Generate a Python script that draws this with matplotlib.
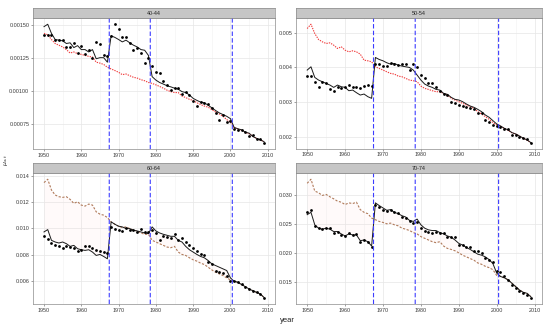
import matplotlib
matplotlib.use("Agg")
import matplotlib.pyplot as plt
import numpy as np

plt.rcParams['font.family'] = ['Liberation Sans', 'DejaVu Sans']

years = list(range(1950, 2010))
breaks = [1967.5, 1978.5, 2000.5]
groups = ["40-44", "50-54", "60-64", "70-74"]

obs_40 = [0.001426,0.001426,0.001421,0.001385,0.001383,0.001383,0.001337,0.001337,0.001362,0.001288,
          0.001344,0.001283,0.001309,0.001250,0.001372,0.001355,0.001270,0.001265,0.001416,0.001505,
          0.001470,0.001406,0.001411,0.001360,0.001309,0.001329,0.001291,0.001214,0.001250,0.001189,
          0.001143,0.001140,0.001079,0.001046,0.001008,0.001028,0.001023,0.000977,0.000995,0.000969,
          0.000926,0.000888,0.000921,0.000913,0.000906,0.000870,0.000839,0.000786,0.000824,0.000768,
          0.000778,0.000717,0.000707,0.000704,0.000691,0.000663,0.000671,0.000638,0.000640,0.000607]
fit_40 = [0.001487,0.001505,0.001436,0.001390,0.001385,0.001380,0.001360,0.001365,0.001329,0.001344,
          0.001314,0.001314,0.001296,0.001314,0.001245,0.001253,0.001253,0.001219,0.001418,0.001406,
          0.001390,0.001372,0.001385,0.001365,0.001347,0.001334,0.001314,0.001309,0.001270,0.001110,
          0.001084,0.001066,0.001054,0.001041,0.001033,0.001023,0.001015,0.000997,0.000990,0.000972,
          0.000946,0.000931,0.000918,0.000913,0.000895,0.000875,0.000855,0.000837,0.000824,0.000811,
          0.000793,0.000727,0.000717,0.000709,0.000691,0.000684,0.000658,0.000645,0.000633,0.000620]
alt_40 = [0.001436,0.001426,0.001390,0.001360,0.001347,0.001334,0.001314,0.001288,0.001296,0.001283,
          0.001278,0.001270,0.001263,0.001258,0.001219,0.001212,0.001202,0.001181,0.001168,0.001156,
          0.001143,0.001125,0.001130,0.001117,0.001105,0.001099,0.001087,0.001079,0.001066,0.001059,
          0.001048,0.001036,0.001023,0.001008,0.000997,0.000990,0.000990,0.000964,0.000952,0.000939,
          0.000931,0.000913,0.000900,0.000888,0.000880,0.000862,0.000844,0.000829,0.000811,0.000786,
          0.000768,0.000725,0.000715,0.000707,0.000690,0.000680,0.000660,0.000645,0.000633,0.000620]

obs_50 = [0.003744,0.003734,0.003581,0.003437,0.003581,0.003552,0.003360,0.003322,0.003418,0.003389,
          0.003418,0.003485,0.003437,0.003418,0.003389,0.003456,0.003485,0.003456,0.004080,0.004089,
          0.004032,0.004041,0.004108,0.004089,0.004070,0.004080,0.004099,0.003917,0.004080,0.004012,
          0.003773,0.003677,0.003552,0.003552,0.003437,0.003322,0.003217,0.003197,0.003006,0.002958,
          0.002910,0.002881,0.002843,0.002814,0.002785,0.002670,0.002670,0.002478,0.002430,0.002335,
          0.002306,0.002287,0.002210,0.002210,0.002047,0.002047,0.001999,0.001951,0.001922,0.001826]
fit_50 = [0.003917,0.004012,0.003706,0.003629,0.003581,0.003533,0.003485,0.003418,0.003485,0.003437,
          0.003418,0.003322,0.003341,0.003265,0.003197,0.003226,0.003150,0.003102,0.004281,0.004223,
          0.004185,0.004128,0.004089,0.004108,0.004060,0.004032,0.004012,0.003993,0.003917,0.003773,
          0.003629,0.003514,0.003456,0.003418,0.003360,0.003341,0.003245,0.003217,0.003130,0.003073,
          0.003054,0.003006,0.002939,0.002881,0.002843,0.002785,0.002718,0.002622,0.002555,0.002459,
          0.002363,0.002306,0.002239,0.002191,0.002114,0.002076,0.002018,0.001951,0.001903,0.001826]
alt_50 = [0.005115,0.005240,0.004971,0.004799,0.004732,0.004684,0.004703,0.004636,0.004540,0.004588,
          0.004492,0.004444,0.004473,0.004444,0.004377,0.004204,0.004185,0.004156,0.004012,0.003965,
          0.003917,0.003869,0.003821,0.003802,0.003744,0.003725,0.003677,0.003629,0.003610,0.003581,
          0.003456,0.003389,0.003360,0.003322,0.003293,0.003293,0.003245,0.003197,0.003102,0.003054,
          0.003006,0.002958,0.002910,0.002862,0.002814,0.002718,0.002651,0.002574,0.002498,0.002402,
          0.002335,0.002300,0.002235,0.002185,0.002110,0.002070,0.002015,0.001950,0.001900,0.001826]

obs_60 = [0.009388,0.009184,0.008879,0.008700,0.008624,0.008522,0.008649,0.008573,0.008522,0.008267,
          0.008369,0.008624,0.008624,0.008522,0.008318,0.008267,0.008191,0.008114,0.010102,0.009974,
          0.009898,0.009796,0.010000,0.009847,0.009847,0.009720,0.009974,0.009720,0.009720,0.009898,
          0.009643,0.009082,0.009388,0.009337,0.009286,0.009592,0.009133,0.009286,0.008955,0.008700,
          0.008522,0.008267,0.008063,0.007936,0.007426,0.007248,0.006789,0.006662,0.006585,0.006407,
          0.006025,0.005974,0.005898,0.005770,0.005515,0.005388,0.005260,0.005133,0.005006,0.004700]
fit_60 = [0.009719,0.009898,0.009082,0.008955,0.008879,0.008955,0.008828,0.008624,0.008700,0.008445,
          0.008369,0.008318,0.008369,0.008191,0.007936,0.008012,0.007859,0.007681,0.010484,0.010305,
          0.010153,0.010102,0.009974,0.009974,0.009847,0.009796,0.009719,0.009643,0.009592,0.010102,
          0.009796,0.009643,0.009541,0.009465,0.009388,0.009388,0.009082,0.008955,0.008624,0.008369,
          0.008191,0.008012,0.007859,0.007757,0.007553,0.007299,0.007171,0.007044,0.006917,0.006789,
          0.006229,0.005974,0.005898,0.005719,0.005566,0.005388,0.005260,0.005133,0.005006,0.004751]
alt_60 = [0.013465,0.013720,0.012904,0.012522,0.012395,0.012344,0.012395,0.012191,0.011885,0.012013,
          0.011758,0.011681,0.011834,0.011758,0.011248,0.011070,0.010993,0.010815,0.010484,0.010305,
          0.010153,0.010051,0.010102,0.009974,0.009847,0.009796,0.009643,0.009541,0.009541,0.009082,
          0.008955,0.008828,0.008700,0.008573,0.008522,0.008624,0.008191,0.008012,0.007936,0.007757,
          0.007604,0.007503,0.007350,0.007248,0.007044,0.006840,0.006662,0.006534,0.006407,0.006229,
          0.006076,0.005974,0.005898,0.005719,0.005566,0.005388,0.005260,0.005133,0.005006,0.004751]

obs_70 = [0.027011,0.027363,0.024667,0.024257,0.024081,0.024257,0.024257,0.023495,0.023671,0.023085,
          0.022909,0.023378,0.023085,0.023261,0.021913,0.022206,0.021913,0.021034,0.028359,0.027949,
          0.027480,0.027187,0.027363,0.027011,0.026894,0.026191,0.026015,0.025429,0.025136,0.025253,
          0.024257,0.023847,0.023671,0.023495,0.023671,0.023378,0.023378,0.022792,0.022792,0.022675,
          0.021327,0.021327,0.020917,0.020917,0.020331,0.020331,0.019979,0.019159,0.018807,0.018397,
          0.016815,0.016639,0.015877,0.015291,0.014471,0.013885,0.013416,0.012947,0.012713,0.012127]
fit_70 = [0.026601,0.027011,0.024844,0.024258,0.024082,0.024258,0.024082,0.023672,0.023672,0.023262,
          0.022910,0.023262,0.023086,0.023086,0.022090,0.022207,0.021914,0.021152,0.028652,0.028184,
          0.027773,0.027363,0.027480,0.027011,0.026777,0.026426,0.026191,0.025605,0.025430,0.025839,
          0.024844,0.024258,0.023965,0.023848,0.023848,0.023496,0.023262,0.022910,0.022676,0.022207,
          0.021621,0.021328,0.020918,0.020567,0.020157,0.019747,0.019571,0.019278,0.018809,0.018106,
          0.016465,0.015879,0.015645,0.015293,0.014707,0.014121,0.013535,0.013125,0.012949,0.012363]
alt_70 = [0.032051,0.032754,0.030703,0.030410,0.029941,0.030117,0.029707,0.029355,0.028945,0.028770,
          0.028359,0.028652,0.028535,0.028770,0.027480,0.027011,0.026777,0.026015,0.025723,0.025430,
          0.025254,0.025020,0.025137,0.024844,0.024668,0.024258,0.024082,0.023848,0.023496,0.023262,
          0.022793,0.022500,0.022207,0.021914,0.021738,0.021914,0.021152,0.020743,0.020567,0.020333,
          0.019981,0.019571,0.019278,0.018985,0.018692,0.018223,0.017989,0.017637,0.017403,0.017051,
          0.016055,0.015879,0.015645,0.015293,0.014707,0.014121,0.013535,0.013125,0.012949,0.012363]

yticks = {
    "40-44": [0.00075, 0.00100, 0.00125, 0.00150],
    "50-54": [0.002, 0.003, 0.004, 0.005],
    "60-64": [0.006, 0.008, 0.010, 0.012, 0.014],
    "70-74": [0.015, 0.020, 0.025, 0.030],
}
yfmt = {"40-44": "{:.5f}", "50-54": "{:.3f}", "60-64": "{:.3f}", "70-74": "{:.3f}"}
xticks = [1950, 1960, 1970, 1980, 1990, 2000, 2010]

data = {
    "40-44": (obs_40, fit_40, alt_40),
    "50-54": (obs_50, fit_50, alt_50),
    "60-64": (obs_60, fit_60, alt_60),
    "70-74": (obs_70, fit_70, alt_70),
}

W, H = 550, 331
fig = plt.figure(figsize=(W / 100, H / 100), dpi=100)

# panel boxes in pixels: (left, right, top, bottom)
boxes = {
    "40-44": (33, 275, 18.3, 149.3),
    "50-54": (296, 542, 18.3, 148.5),
    "60-64": (33, 275, 173.3, 304),
    "70-74": (296, 542, 173.3, 304),
}
strip_h = 10.5

tick_fs = 3.9
border_col = "#8c8c8c"
for g in groups:
    l, r, t, b = boxes[g]
    ax = fig.add_axes([l / W, 1 - b / H, (r - l) / W, (b - t) / H])
    obs, fit, alt = data[g]
    yrs = np.array(years)
    allv = np.concatenate([obs, fit, alt])
    lo, hi = allv.min(), allv.max()
    pad = 0.05 * (hi - lo)
    ax.set_ylim(lo - pad, hi + pad)
    ax.set_xlim(1950 - 0.05 * 59, 2009 + 0.05 * 59)
    ax.set_xticks(xticks)
    ax.set_xticklabels([str(x) for x in xticks])
    ax.set_yticks(yticks[g])
    ax.set_yticklabels([yfmt[g].format(v) for v in yticks[g]])
    ax.grid(True, color="#e6e6e6", lw=0.5)
    ax.set_xticks([1955, 1965, 1975, 1985, 1995, 2005], minor=True)
    ax.grid(True, which="minor", axis="x", color="#f2f2f2", lw=0.4)
    ax.tick_params(which="minor", length=0)
    ax.set_axisbelow(True)
    ax.tick_params(labelsize=tick_fs, length=1.5, width=0.4, color="#555555",
                   pad=1.2, labelcolor="#3a3a3a")
    for s in ax.spines.values():
        s.set_color(border_col)
        s.set_linewidth(0.5)
    if g in ("60-64", "70-74"):
        ax.fill_between(yrs, fit, alt, color="#ffd6d6", alpha=0.10, lw=0)
        alt_col = "#b07a5a"
        alt_dash = (0, (2.0, 1.4))
    else:
        alt_col = "#f03a3a"
        alt_dash = (0, (1.2, 1.0))
    ax.plot(yrs, alt, color=alt_col, lw=0.8, linestyle=alt_dash, zorder=3)
    ax.plot(yrs, fit, color="#1a1a1a", lw=0.7, zorder=4)
    ax.plot(yrs, obs, "o", color="black", ms=2.0, mew=0, zorder=5)
    for xb in breaks:
        ax.axvline(xb, color="#3c3cff", lw=0.8, linestyle=(0, (4.0, 2.0)),
                   zorder=6, antialiased=True, snap=False)
    # strip
    sax = fig.add_axes([l / W, 1 - t / H, (r - l) / W, strip_h / H])
    sax.set_facecolor("#c6c6c6")
    sax.set_xticks([])
    sax.set_yticks([])
    for s in sax.spines.values():
        s.set_color(border_col)
        s.set_linewidth(0.5)
    sax.text(0.5, 0.45, g, ha="center", va="center", fontsize=3.9,
             color="#222222", transform=sax.transAxes)

fig.text(287 / W, 1 - 321 / H, "year", ha="center", va="center", fontsize=5.5,
         color="#222222")
fig.text(6 / W, 1 - 160 / H, r"$\mu_{x,t}$", ha="center", va="center",
         fontsize=4.5, rotation=90, color="#222222")

fig.savefig("out.png", dpi=100, facecolor="white")
